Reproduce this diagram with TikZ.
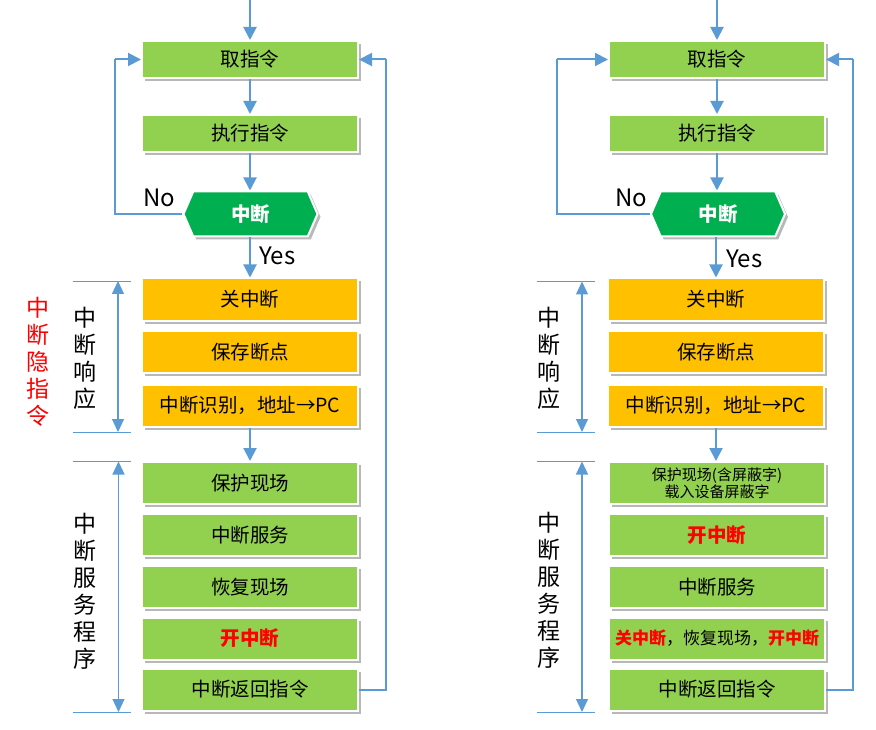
\documentclass[tikz,border=0pt]{standalone}
\usepackage{fontspec}
\setmainfont{Noto Sans CJK SC}
\usetikzlibrary{arrows.meta,shapes.symbols,shadows}

\definecolor{boxgreen}{HTML}{92D050}
\definecolor{boxorange}{HTML}{FFC000}
\definecolor{decgreen}{HTML}{00B050}
\definecolor{lineblue}{HTML}{5B9BD5}
\definecolor{alertred}{HTML}{FF0000}

\tikzset{
  stepbase/.style={draw=white, line width=2pt, minimum width=216pt, inner sep=0pt,
    font=\fontsize{19.5}{22}\selectfont, text=black,
    drop shadow={shadow xshift=3pt, shadow yshift=-3pt, fill=black, opacity=0.28}},
  gbox/.style={stepbase, fill=boxgreen, minimum height=#1},
  gbox/.default=42pt,
  obox/.style={stepbase, fill=boxorange, minimum height=42pt},
  decbox/.style={signal, signal to=west and east, signal pointer angle=133,
    draw=white, line width=2pt, fill=decgreen, minimum width=134pt, minimum height=45pt,
    inner sep=0pt, text=white, font=\fontsize{19.5}{22}\selectfont\bfseries,
    drop shadow={shadow xshift=3pt, shadow yshift=-3pt, fill=black, opacity=0.28}},
  flow/.style={draw=lineblue, line width=2pt, -{Triangle[length=13pt,width=13pt]}},
  loopline/.style={draw=lineblue, line width=2pt},
  tickline/.style={draw=lineblue, line width=0.9pt},
  spanarrow/.style={draw=lineblue, line width=1.2pt,
    {Triangle[length=13pt,width=12pt]}-{Triangle[length=13pt,width=12pt]}},
  vtext/.style={align=center, inner sep=0pt, font=\fontsize{23}{27}\selectfont},
  yn/.style={inner sep=0pt, anchor=base west, font=\fontsize{24}{26}\selectfont},
  hot/.style={text=alertred, font=\fontsize{19.5}{22}\selectfont\bfseries},
}

\begin{document}
\begin{tikzpicture}[x=1pt, y=-1pt]
  \fill[white] (0,0) rectangle (876,730);
  \useasboundingbox (0,0) rectangle (876,730);

  % ---------------- left flow ----------------
  \node[gbox=37pt] (fetchL) at (250,59.5) {取指令};
  \node[gbox=37pt] (execL)  at (250,133.5) {执行指令};
  \node[decbox] (decL) at (250.5,214) {中断};

  \node[obox] (offL)   at (250,299.5) {关中断};
  \node[obox] (saveL)  at (250,352)   {保存断点};
  \node[obox] (idL)    at (250,405.5) {中断识别，地址→PC};

  \node[gbox] (protL)  at (250,483) {保护现场};
  \node[gbox] (servL)  at (250,535) {中断服务};
  \node[gbox] (restL)  at (250,587) {恢复现场};
  \node[gbox, hot] (onL) at (250,638.5) {开中断};
  \node[gbox] (retL)   at (250,689.5) {中断返回指令};

  \coordinate (inL) at (250,0);
  \coordinate (noL) at (115,59.5);
  \coordinate (backL) at (386,59.5);

  \draw[flow] (inL) -- (fetchL.north);
  \draw[flow] (fetchL.south) -- (execL.north);
  \draw[flow] (execL.south) -- (decL.north -| execL);
  \draw[flow] (decL.south -| offL) -- (offL.north);
  \draw[flow] (idL.south) -- (protL.north);
  \draw[loopline] (decL.west) -| (noL);
  \draw[flow] (noL) -- (fetchL.west);
  \draw[loopline] (retL.east) -| (backL);
  \draw[flow] (backL) -- (fetchL.east);

  \node[yn] (noTxtL)  at (143,207) {No};
  \node[yn] (yesTxtL) at (259,265) {Yes};

  % span marks, left
  \coordinate (rTopL) at (73,281);   \coordinate (rTopLe) at (131,281);
  \coordinate (rBotL) at (73,432);   \coordinate (rBotLe) at (131,432);
  \coordinate (rAtL)  at (118,281);  \coordinate (rAbL)   at (118,432);
  \draw[tickline] (rTopL) -- (rTopLe);
  \draw[tickline] (rBotL) -- (rBotLe);
  \draw[spanarrow] (rAtL) -- (rAbL);

  \coordinate (sTopL) at (73,461.5); \coordinate (sTopLe) at (131,461.5);
  \coordinate (sBotL) at (73,712);   \coordinate (sBotLe) at (131,712);
  \coordinate (sAtL)  at (118.5,461.5); \coordinate (sAbL) at (118.5,712);
  \draw[tickline] (sTopL) -- (sTopLe);
  \draw[tickline] (sBotL) -- (sBotLe);
  \draw[spanarrow] (sAtL) -- (sAbL);

  \node[vtext] (respTxtL) at (85,358) {中\\断\\响\\应};
  \node[vtext, text=alertred] (hidTxtL) at (38.5,362) {中\\断\\隐\\指\\令};
  \node[vtext] (servTxtL) at (84.5,591) {中\\断\\服\\务\\程\\序};

  % ---------------- right flow ----------------
  \node[gbox=37pt] (fetchR) at (717,59.5) {取指令};
  \node[gbox=37pt] (execR)  at (717,133.5) {执行指令};
  \node[decbox] (decR) at (718,214) {中断};

  \node[obox] (offR)   at (716,299.5) {关中断};
  \node[obox] (saveR)  at (716,352)   {保存断点};
  \node[obox] (idR)    at (716,405.5) {中断识别，地址→PC};

  \node[gbox, align=center, font=\fontsize{15}{17}\selectfont] (protR) at (717,483)
    {保护现场(含屏蔽字)\\载入设备屏蔽字};
  \node[gbox, hot] (onR)   at (717,535) {开中断};
  \node[gbox] (servR) at (717,587) {中断服务};
  \node[gbox, font=\fontsize{17}{20}\selectfont] (restR) at (717,638.5)
    {\textcolor{alertred}{\bfseries 关中断}，恢复现场，\textcolor{alertred}{\bfseries 开中断}};
  \node[gbox] (retR)  at (717,689.5) {中断返回指令};

  \coordinate (inR) at (717,0);
  \coordinate (noR) at (557,59.5);
  \coordinate (backR) at (853,59.5);

  \draw[flow] (inR) -- (fetchR.north);
  \draw[flow] (fetchR.south) -- (execR.north);
  \draw[flow] (execR.south) -- (decR.north -| execR);
  \draw[flow] (decR.south -| offR) -- (offR.north);
  \draw[flow] (idR.south) -- (protR.north -| idR);
  \draw[loopline] (decR.west) -| (noR);
  \draw[flow] (noR) -- (fetchR.west);
  \draw[loopline] (retR.east) -| (backR);
  \draw[flow] (backR) -- (fetchR.east);

  \node[yn] (noTxtR)  at (615,207) {No};
  \node[yn] (yesTxtR) at (726,268) {Yes};

  % span marks, right
  \coordinate (rTopR) at (537,281.5); \coordinate (rTopRe) at (595,281.5);
  \coordinate (rBotR) at (537,432);   \coordinate (rBotRe) at (595,432);
  \coordinate (rAtR)  at (582,281.5); \coordinate (rAbR)   at (582,432);
  \draw[tickline] (rTopR) -- (rTopRe);
  \draw[tickline] (rBotR) -- (rBotRe);
  \draw[spanarrow] (rAtR) -- (rAbR);

  \coordinate (sTopR) at (537,461.5); \coordinate (sTopRe) at (595,461.5);
  \coordinate (sBotR) at (537,712);   \coordinate (sBotRe) at (595,712);
  \coordinate (sAtR)  at (582,461.5); \coordinate (sAbR)   at (582,712);
  \draw[tickline] (sTopR) -- (sTopRe);
  \draw[tickline] (sBotR) -- (sBotRe);
  \draw[spanarrow] (sAtR) -- (sAbR);

  \node[vtext] (respTxtR) at (548.5,358) {中\\断\\响\\应};
  \node[vtext] (servTxtR) at (548.5,590) {中\\断\\服\\务\\程\\序};
\end{tikzpicture}
\end{document}
